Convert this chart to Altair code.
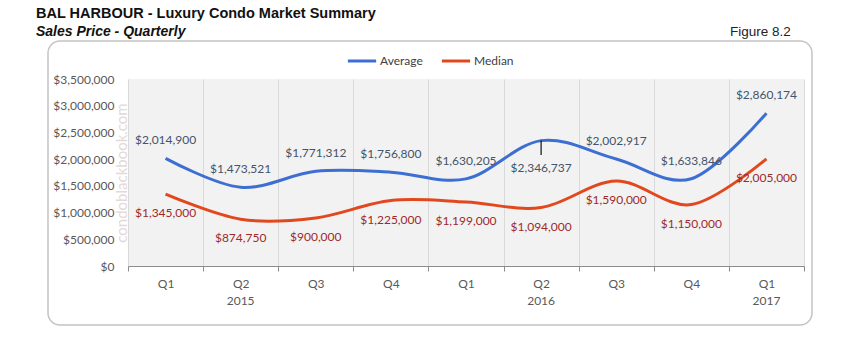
import altair as alt
import pandas as pd

# ---- data ----
quarters = ["Q1", "Q2", "Q3", "Q4", "Q1", "Q2", "Q3", "Q4", "Q1"]
years = ["2015", "2015", "2015", "2015", "2016", "2016", "2016", "2016", "2017"]
year_labels = ["", "2015", "", "", "", "2016", "", "", "2017"]
average = [2014900, 1473521, 1771312, 1756800, 1630205, 2346737, 2002917, 1633846, 2860174]
median = [1345000, 874750, 900000, 1225000, 1199000, 1094000, 1590000, 1150000, 2005000]
series_names = ["Average", "Median"]
y_ticks = [0, 500000, 1000000, 1500000, 2000000, 2500000, 3000000, 3500000]

keys = [f"{y} {q}" for q, y in zip(quarters, years)]

rows = []
for k, a, m in zip(keys, average, median):
    rows.append({"key": k, "series": "Average", "value": a})
    rows.append({"key": k, "series": "Median", "value": m})
df = pd.DataFrame(rows)
years_df = pd.DataFrame({"key": keys, "year": year_labels})

FONT = "Lato"
W, H = 676, 187

xenc = alt.X(
    "key:N", sort=keys, bandPosition=0.5,
    scale=alt.Scale(type="band", paddingInner=0, paddingOuter=0),
    axis=alt.Axis(title=None, labelExpr="split(datum.label, ' ')[1]", tickBand="extent",
                  grid=True, gridColor="#d9d9d9", gridWidth=1, domainColor="#8c8c8c",
                  tickColor="#8c8c8c", tickSize=5, labelAngle=0, labelPadding=7,
                  labelFont=FONT, labelFontSize=12, labelColor="#595959"),
)
yenc = alt.Y(
    "value:Q",
    scale=alt.Scale(domain=[0, 3500000], nice=False),
    axis=alt.Axis(title=None, values=y_ticks, format="$,.0f", grid=False, domain=False,
                  ticks=False, labelPadding=14, labelFont=FONT, labelFontSize=12,
                  labelColor="#595959"),
)

base = alt.Chart(df)

frame = alt.Chart(pd.DataFrame({"a": [0]})).mark_rect(
    cornerRadius=12, fill="transparent", stroke="#c4c4c4", strokeWidth=1.5
).encode(x=alt.value(-80), x2=alt.value(684), y=alt.value(-38), y2=alt.value(246))

lines = base.mark_line(interpolate="cardinal", strokeWidth=3).encode(
    x=xenc, y=yenc,
    color=alt.Color("series:N", scale=alt.Scale(domain=series_names, range=["#3d6fd3", "#e2481d"]),
                    legend=alt.Legend(title=None, orient="none", direction="horizontal",
                                      legendX=218, legendY=-34, symbolType="stroke",
                                      symbolSize=800, symbolStrokeWidth=3, labelFont=FONT,
                                      labelFontSize=12, labelColor="#404040", labelOffset=2,
                                      columnPadding=12)),
)

txt = alt.Text("value:Q", format="$,.0f")
avg_labels = base.transform_filter(
    "datum.series == 'Average' && datum.key != '2016 Q2'"
).mark_text(dy=-18, font=FONT, fontSize=12, color="#44546a").encode(x=xenc, y=yenc, text=txt)
avg_below = base.transform_filter(
    "datum.series == 'Average' && datum.key == '2016 Q2'"
).mark_text(dy=27, font=FONT, fontSize=12, color="#44546a").encode(x=xenc, y=yenc, text=txt)
leader = base.transform_filter(
    "datum.series == 'Average' && datum.key == '2016 Q2'"
).transform_calculate(v2="datum.value - 270000").mark_rule(color="#111111", strokeWidth=1.2).encode(
    x=xenc, y=yenc, y2="v2:Q")
med_labels = base.transform_filter("datum.series == 'Median'").mark_text(
    dy=19, font=FONT, fontSize=12, color="#9e2a2b").encode(x=xenc, y=yenc, text=txt)

year_text = alt.Chart(years_df).transform_filter("datum.year != ''").mark_text(
    font=FONT, fontSize=12, color="#595959").encode(x=xenc, y=alt.value(222), text="year:N")

one = pd.DataFrame({"a": [0]})
watermark = alt.Chart(one).mark_text(
    text="condoblackbook.com", angle=270, font=FONT, fontSize=15, color="#e3d9d9"
).encode(x=alt.value(-6), y=alt.value(94))
title = alt.Chart(one).mark_text(
    text="BAL HARBOUR - Luxury Condo Market Summary", align="left", font="Liberation Sans",
    fontSize=14.5, fontWeight="bold", color="#111111"
).encode(x=alt.value(-92), y=alt.value(-65))
subtitle = alt.Chart(one).mark_text(
    text="Sales Price - Quarterly", align="left", font="Liberation Sans",
    fontSize=14, fontWeight="bold", fontStyle="italic", color="#111111"
).encode(x=alt.value(-92), y=alt.value(-47))
figure = alt.Chart(one).mark_text(
    text="Figure 8.2", align="left", font="Liberation Sans", fontSize=13.5, color="#222222"
).encode(x=alt.value(602), y=alt.value(-47))

chart = alt.layer(
    frame, lines, leader, avg_labels, avg_below, med_labels, year_text,
    watermark, title, subtitle, figure
).properties(
    width=W, height=H,
    autosize=alt.AutoSizeParams(type="none"),
    padding={"left": 128, "top": 79, "right": 50, "bottom": 72},
    background="white",
).configure_view(fill="#f2f2f2", strokeWidth=0)

chart.save("out.html", embed_options={"renderer": "svg", "actions": False})
